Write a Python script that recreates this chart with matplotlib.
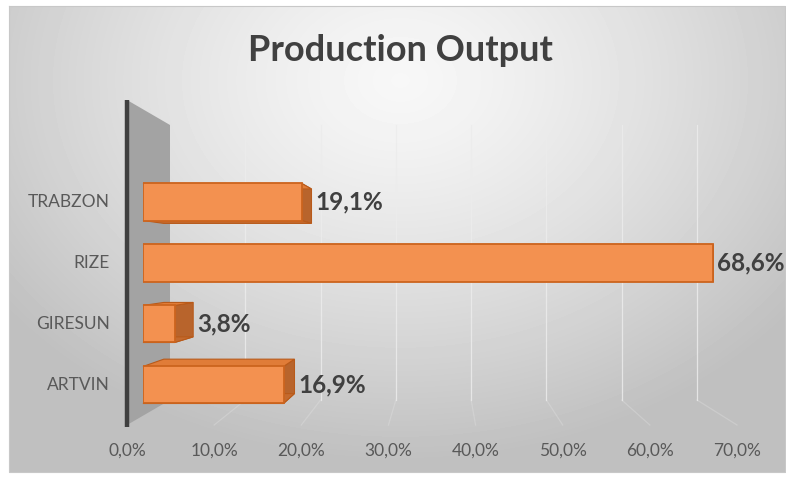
import numpy as np
import matplotlib.pyplot as plt
from matplotlib.patches import Polygon
from matplotlib.transforms import IdentityTransform

plt.rcParams['font.family'] = ['Lato', 'DejaVu Sans']

# data
regions = ['ARTVIN', 'GIRESUN', 'RIZE', 'TRABZON']
shares = [16.9, 3.8, 68.6, 19.1]
tick_vals = [0, 10, 20, 30, 40, 50, 60, 70]
tick_labels = ['0,0%', '10,0%', '20,0%', '30,0%', '40,0%', '50,0%', '60,0%', '70,0%']
title = 'Production Output'

W, H = 786, 479
fig = plt.figure(figsize=(W / 100, H / 100), dpi=100)
fig.patch.set_facecolor('white')

# background in pixel coordinates
bg = fig.add_axes([0, 0, 1, 1])
bg.set_xlim(0, W)
bg.set_ylim(H, 0)
bg.axis('off')
yy, xx = np.mgrid[6:472, 9:785]
d = np.sqrt(((xx - 400) / 1.0) ** 2 + ((yy - 80) * 1.3) ** 2)
shade = np.clip(0.97 - 0.21 * (d / 480) ** 1.3, 0.75, 1)
bg.imshow(shade, cmap='gray', vmin=0, vmax=1, extent=(9, 785, 472, 6),
          aspect='auto', interpolation='bilinear', zorder=0)
bg.plot([9, 785, 785, 9, 9], [6, 6, 472, 472, 6], color='#c8c8c8', lw=0.8, zorder=1)

# side wall + axis line
bg.add_patch(Polygon([(127, 100), (170, 125), (170, 400), (127, 425)],
                     closed=True, facecolor='#a3a3a3', edgecolor='none', zorder=2))
bg.plot([127, 127], [100, 427], color='#3f3f3f', lw=3.2, zorder=3, solid_capstyle='butt')

# back wall gridlines and floor lines (faint)
for v in tick_vals[1:]:
    xb = 170 + 527 * v / 70
    xf = 127 + 610 * v / 70
    bg.plot([xb, xb], [125, 400], color='#ececec', lw=0.9, zorder=2, alpha=0.85)
    bg.plot([xb, xf], [400, 425], color='#e8e8e8', lw=0.9, zorder=2, alpha=0.3)

bg.text(400, 50, title, ha='center', va='center', fontsize=26, fontweight='bold',
        color='#404040')

# tick labels along the floor front edge
tax = fig.add_axes([127 / W, (H - 425) / H, 610 / W, 0.0001])
tax.set_xlim(0, 70)
tax.set_xticks(tick_vals)
tax.set_xticklabels(tick_labels, fontsize=12.5, color='#595959')
tax.tick_params(axis='x', length=0, pad=13)
tax.set_yticks([])
tax.patch.set_alpha(0)
for s in tax.spines.values():
    s.set_visible(False)

# bars
ax = fig.add_axes([143 / W, (H - 425) / H, 582 / W, 325 / H])
ax.set_xlim(0, 70)
ax.set_ylim(-0.656, 4.672)
ax.patch.set_alpha(0)
ax.axis('off')
h = 0.607
ypos = np.arange(len(regions))
ax.barh(ypos, shares, height=h, color='#f39150', edgecolor='#cc641e', linewidth=1.3, zorder=5)

vp = np.array([440, H - 262])
k = 0.93
for i, v in enumerate(shares):
    c = ax.transData.transform([(0, i - h / 2), (v, i - h / 2), (v, i + h / 2), (0, i + h / 2)])
    b = vp + (c - vp) * k
    faces = [([c[1], c[2], b[2], b[1]], '#b8642c'),
             ([c[3], c[2], b[2], b[3]], '#e07c38'),
             ([c[0], c[1], b[1], b[0]], '#c46a2e')]
    for pts, col in faces:
        fig.add_artist(Polygon(pts, closed=True, facecolor=col, edgecolor='#b85a1a',
                               lw=0.8, transform=IdentityTransform(), zorder=1))
    xr = max(c[1][0], b[1][0]) + 4
    ym = (c[1][1] + c[2][1]) / 2
    fig.text(xr / W, ym / H, f'{v:.1f}%'.replace('.', ','), ha='left', va='center',
             fontsize=17.5, fontweight='bold', color='#404040')

# keep bars above the side faces
ax.set_zorder(3)

# category labels
for i, name in enumerate(regions):
    yd = ax.transData.transform((0, i))[1]
    fig.text(110 / W, yd / H, name, ha='right', va='center', fontsize=12.5, color='#595959')

fig.savefig('out.png', dpi=100)
